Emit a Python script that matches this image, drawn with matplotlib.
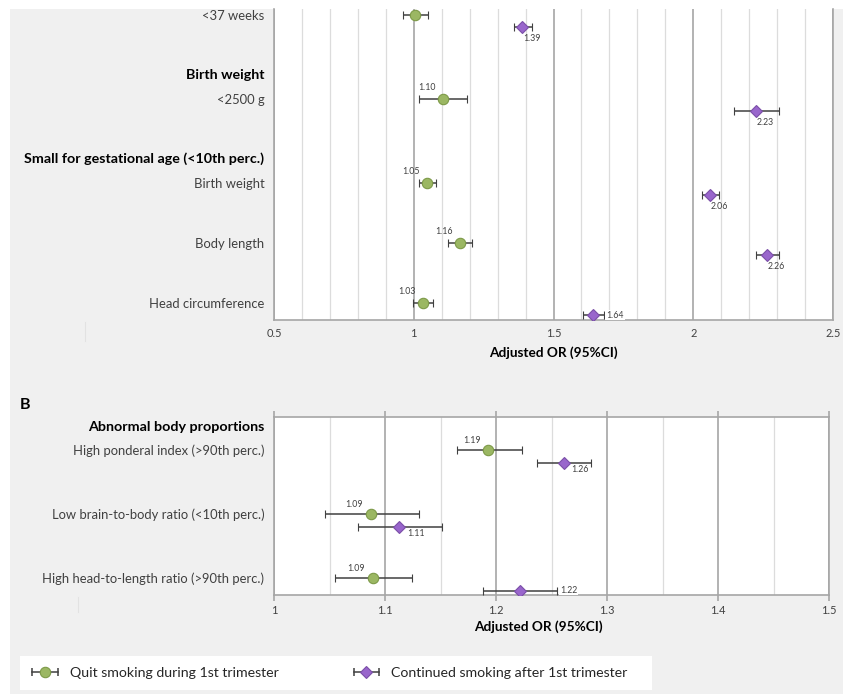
import matplotlib
matplotlib.use('Agg')
import matplotlib.pyplot as plt
from matplotlib.patches import Rectangle
from matplotlib.ticker import MultipleLocator
from matplotlib.lines import Line2D
from matplotlib.legend_handler import HandlerTuple, HandlerLine2D

plt.rcParams['font.family'] = ['Lato', 'DejaVu Sans']

# ---------------- data ----------------
a_labels = ['<37 weeks', '<2500 g', 'Birth weight', 'Body length', 'Head circumference']
a_headers = ['Birth weight', 'Small for gestational age (<10th perc.)']
a_quit_or = [1.004, 1.104, 1.046, 1.164, 1.032]
a_quit_lo = [0.960, 1.020, 1.018, 1.121, 0.996]
a_quit_hi = [1.051, 1.190, 1.079, 1.207, 1.068]
a_cont_or = [1.389, 2.226, 2.060, 2.263, 1.643]
a_cont_lo = [1.357, 2.146, 2.032, 2.225, 1.604]
a_cont_hi = [1.422, 2.307, 2.093, 2.307, 1.679]
a_xticks = [0.5, 1, 1.5, 2, 2.5]
a_xticklabels = ['0.5', '1', '1.5', '2', '2.5']

b_labels = ['High ponderal index (>90th perc.)',
            'Low brain-to-body ratio (<10th perc.)',
            'High head-to-length ratio (>90th perc.)']
b_headers = ['Abnormal body proportions']
b_quit_or = [1.193, 1.087, 1.089]
b_quit_lo = [1.165, 1.046, 1.055]
b_quit_hi = [1.223, 1.131, 1.124]
b_cont_or = [1.261, 1.113, 1.222]
b_cont_lo = [1.237, 1.076, 1.188]
b_cont_hi = [1.286, 1.151, 1.255]
b_xticks = [1, 1.1, 1.2, 1.3, 1.4, 1.5]
b_xticklabels = ['1', '1.1', '1.2', '1.3', '1.4', '1.5']

series_names = ['Quit smoking during 1st trimester', 'Continued smoking after 1st trimester']
xlabel = 'Adjusted OR (95%CI)'

# ---------------- layout / style ----------------
W, H = 843, 694
def fx(px): return px / W
def fy(py): return 1 - py / H

GREEN_F, GREEN_E = '#9bb763', '#7d9a48'
PURP_F, PURP_E = '#9966cc', '#7b4fa8'
ECOL = '#404040'
TXT = '#404040'
FS = 9.4
FSB = 10.3

fig = plt.figure(figsize=(W / 100, H / 100), dpi=100, facecolor='white')
fig.add_artist(Rectangle((fx(10), 0), 1 - fx(10), fy(9), transform=fig.transFigure,
                         facecolor='#f0f0f0', edgecolor='none', zorder=-10))
fig.add_artist(Line2D([fx(85), fx(85)], [fy(322), fy(341)], color='#e2e2e2', lw=0.8))
fig.add_artist(Line2D([fx(78), fx(78)], [fy(597), fy(612)], color='#e2e2e2', lw=0.8))


def panel(ax, labels, headers, pos, hpos, off, ylim, xlim,
          q_or, q_lo, q_hi, c_or, c_lo, c_hi, q_lab, c_lab,
          major, minor, xticks, xticklabels, gl_off, pl_off, tickpad):
    ax.set_facecolor('white')
    ax.set_xlim(*xlim)
    ax.set_ylim(*ylim)
    ax.xaxis.set_major_locator(MultipleLocator(major))
    ax.xaxis.set_minor_locator(MultipleLocator(minor))
    ax.set_axisbelow(True)
    ax.grid(axis='x', which='minor', color='#dcdcdc', lw=0.9)
    ax.grid(axis='x', which='major', color='#a6a6a6', lw=1.2)
    ax.set_xticks(xticks, xticklabels)
    ax.tick_params(axis='x', which='both', length=0, labelsize=7.9, labelcolor=TXT, pad=tickpad)
    qpos = list(pos)
    cpos = [p + off for p in pos]
    ax.errorbar(q_or, qpos, xerr=[[o - l for o, l in zip(q_or, q_lo)],
                                  [h - o for o, h in zip(q_or, q_hi)]],
                fmt='o', ms=7.5, mfc=GREEN_F, mec=GREEN_E, mew=0.8,
                ecolor=ECOL, elinewidth=1.1, capsize=2.6, capthick=1.1, zorder=3)
    ax.errorbar(c_or, cpos, xerr=[[o - l for o, l in zip(c_or, c_lo)],
                                  [h - o for o, h in zip(c_or, c_hi)]],
                fmt='D', ms=5.8, mfc=PURP_F, mec=PURP_E, mew=0.8,
                ecolor=ECOL, elinewidth=1.1, capsize=2.6, capthick=1.1, zorder=3)
    for vals, his, ys, labs in ((q_or, q_hi, qpos, q_lab), (c_or, c_hi, cpos, c_lab)):
        for v, hi, y, lab in zip(vals, his, ys, labs):
            s = f'{v:.2f}'
            if lab == 'ul':
                t = ax.annotate(s, (v, y), xytext=gl_off, textcoords='offset points',
                                ha='center', va='center', fontsize=6.3, color=TXT)
            elif lab == 'lr':
                t = ax.annotate(s, (v, y), xytext=pl_off, textcoords='offset points',
                                ha='center', va='center', fontsize=6.3, color=TXT)
            else:
                t = ax.annotate(s, (hi, y), xytext=(2.0, 0), textcoords='offset points',
                                ha='left', va='center', fontsize=6.3, color=TXT,
                                bbox=dict(facecolor='white', edgecolor='none', pad=0.6))
            t.set_clip_on(True)
            t.set_clip_path(ax.patch)
    ax.set_yticks(list(pos) + list(hpos), list(labels) + list(headers))
    ax.tick_params(axis='y', length=0, pad=7, labelsize=FS)
    n = len(labels)
    for i, tl in enumerate(ax.get_yticklabels()):
        if i >= n:
            tl.set_fontweight('bold')
            tl.set_fontsize(FSB)
            tl.set_color('black')
        else:
            tl.set_color(TXT)
    for sp in ax.spines.values():
        sp.set_color('#a6a6a6')
        sp.set_linewidth(1.2)


# Panel A
axA = fig.add_axes([fx(274), fy(320), fx(833) - fx(274), (320 - 9) / H])
panel(axA, a_labels, a_headers, [0, 1.4, 2.8, 3.8, 4.8], [0.98, 2.38], 0.2,
      (5.083, -0.1), (0.5, 2.5),
      a_quit_or, a_quit_lo, a_quit_hi, a_cont_or, a_cont_lo, a_cont_hi,
      ['ul'] * 5, ['lr', 'lr', 'lr', 'lr', 'r'],
      0.5, 0.1, a_xticks, a_xticklabels, (-11.5, 8), (6.5, -8), 6)
axA.spines['top'].set_visible(False)
axA.set_xlabel(xlabel, fontsize=9.8, fontweight='bold', color='black', va='center')
axA.xaxis.set_label_coords(0.5, -(353 - 320) / 311)

# Panel B
axB = fig.add_axes([fx(274), fy(595), fx(829) - fx(274), (595 - 417) / H])
panel(axB, b_labels, b_headers, [0, 1, 2], [-0.375], 0.2,
      (2.266, -0.516), (1.0, 1.5),
      b_quit_or, b_quit_lo, b_quit_hi, b_cont_or, b_cont_lo, b_cont_hi,
      ['ul'] * 3, ['lr', 'lr', 'r'],
      0.1, 0.05, b_xticks, b_xticklabels, (-12, 7), (12, -5), 3)
axB.tick_params(axis='x', which='major', top=True, direction='out', length=4,
                width=1.2, color='#a6a6a6', labeltop=False)
axB.set_xlabel(xlabel, fontsize=9.8, fontweight='bold', color='black', va='center')
axB.xaxis.set_label_coords((538 - 274) / 555, -(627 - 595) / 178)

fig.text(fx(20), fy(405), 'B', fontsize=11.5, fontweight='bold', va='center', ha='left')

# ---------------- legend ----------------
fig.add_artist(Rectangle((fx(20), fy(690)), fx(652) - fx(20), 34 / H,
                         transform=fig.transFigure, facecolor='white',
                         edgecolor='none', zorder=1))
bar_q = Line2D([], [], color=ECOL, lw=1.1, marker='|', ms=5.2, mew=1.1)
bar_c = Line2D([], [], color=ECOL, lw=1.1, marker='|', ms=5.2, mew=1.1)
mk_q = Line2D([], [], ls='none', marker='o', ms=7.5, mfc=GREEN_F, mec=GREEN_E, mew=0.8)
mk_c = Line2D([], [], ls='none', marker='D', ms=5.8, mfc=PURP_F, mec=PURP_E, mew=0.8)
leg = fig.legend([(bar_q, mk_q), (bar_c, mk_c)], series_names,
                 handler_map={tuple: HandlerTuple(ndivide=1),
                              mk_q: HandlerLine2D(numpoints=1),
                              mk_c: HandlerLine2D(numpoints=1)},
                 numpoints=2, loc='center left', ncol=2,
                 bbox_to_anchor=(fx(28), fy(673)), bbox_transform=fig.transFigure,
                 frameon=False, borderaxespad=0, borderpad=0,
                 handlelength=2.4, handletextpad=0.55, columnspacing=5.0,
                 fontsize=10.2, labelcolor='#262626')
leg.set_zorder(2)

fig.savefig('out.png', dpi=100, facecolor='white')
